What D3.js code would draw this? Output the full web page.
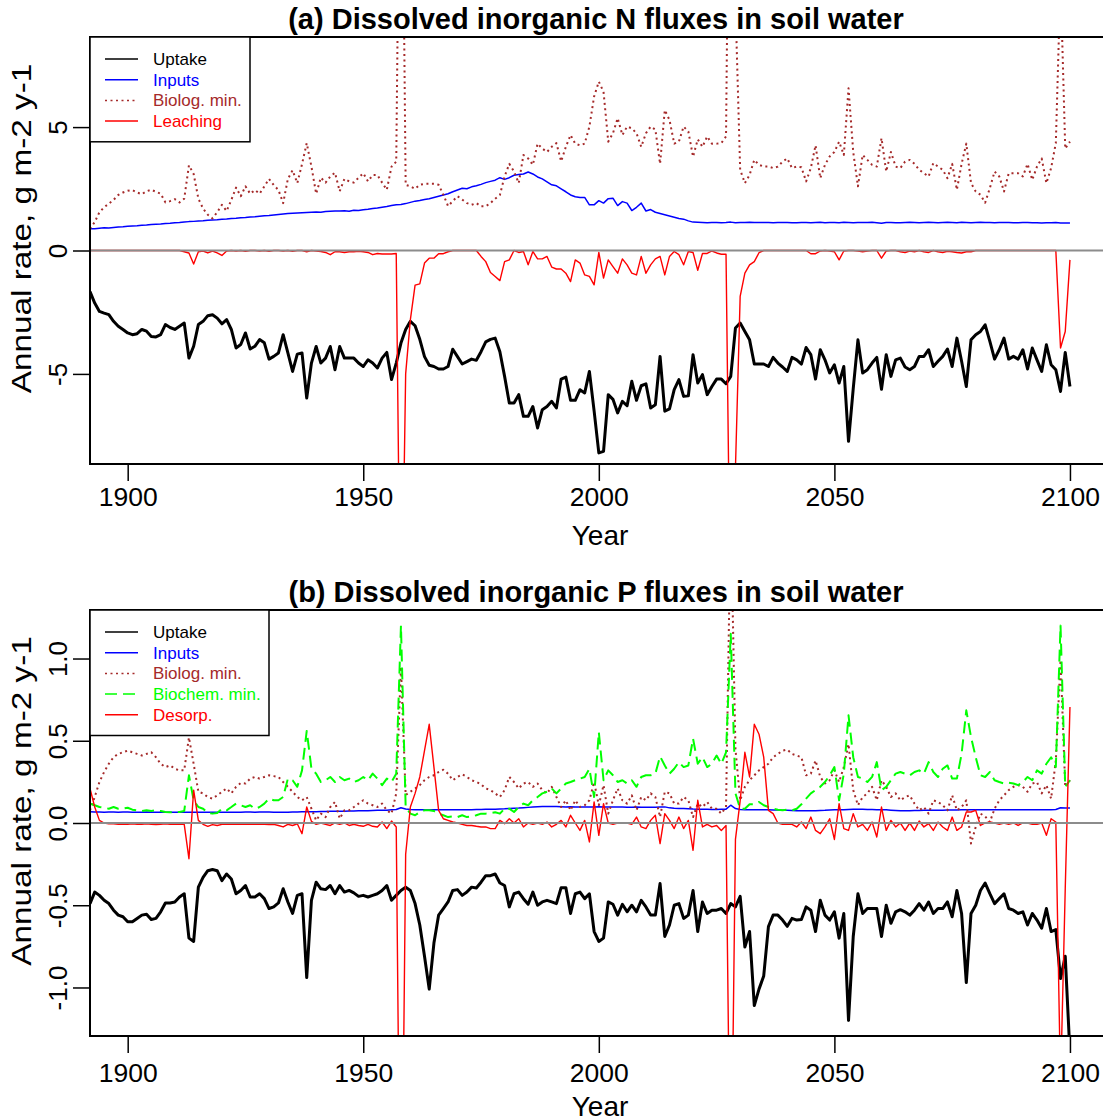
<!DOCTYPE html>
<html>
<head>
<meta charset="utf-8">
<script src="https://cdnjs.cloudflare.com/ajax/libs/d3/7.8.5/d3.min.js"></script>
<style>
body { margin: 0; background: #fff; }
text { font-family: "Liberation Sans", Arial, sans-serif; }
</style>
</head>
<body>
<div id="graph"></div>
<script>
//constantes
const w = 1103;
const h = 1120;
const startYear = 1892;
const left = 90;
const right = 1110;

// graduations
const xTicks = [1900, 1950, 2000, 2050, 2100];
const nTicks = [-5, 0, 5];
const pTicks = [-1.0, -0.5, 0.0, 0.5, 1.0];

// (a) azote, une valeur par année depuis 1892
const nUptake = [
 -1.66,-2.13,-2.47,-2.54,-2.60,-2.87,-3.07,-3.20,-3.34,-3.41,
 -3.37,-3.20,-3.27,-3.48,-3.50,-3.41,-3.00,-3.12,-3.20,-3.07,
 -2.94,-4.36,-3.88,-3.00,-2.87,-2.64,-2.60,-2.74,-2.97,-2.80,
 -3.20,-3.95,-3.81,-3.34,-3.99,-3.88,-3.61,-3.74,-4.40,-4.29,
 -4.15,-3.41,-4.15,-4.90,-4.20,-4.15,-5.98,-4.56,-3.89,-4.56,
 -4.36,-3.89,-4.83,-3.89,-4.36,-4.36,-4.36,-4.56,-4.70,-4.43,
 -4.56,-4.76,-4.36,-4.13,-5.23,-4.56,-3.75,-3.20,-2.87,-3.05,
 -3.60,-4.30,-4.65,-4.70,-4.80,-4.80,-4.70,-4.00,-4.30,-4.60,
 -4.50,-4.40,-4.45,-4.10,-3.70,-3.60,-3.55,-4.10,-5.10,-6.18,
 -6.18,-5.84,-6.72,-6.72,-6.32,-7.19,-6.45,-6.32,-6.11,-6.38,
 -5.21,-5.13,-6.07,-6.07,-5.64,-5.77,-4.90,-6.50,-8.20,-8.14,
 -5.84,-6.03,-6.58,-6.11,-6.29,-5.30,-6.07,-5.48,-5.40,-6.38,
 -6.25,-4.29,-6.51,-6.42,-5.64,-5.23,-5.91,-5.89,-4.22,-5.37,
 -5.03,-5.84,-5.51,-5.21,-5.21,-5.40,-5.10,-3.14,-2.94,-3.28,
 -3.62,-4.60,-4.60,-4.60,-4.70,-4.33,-4.56,-4.72,-4.90,-4.33,
 -4.43,-4.60,-3.93,-4.22,-5.21,-4.02,-4.43,-4.96,-4.63,-5.37,
 -4.70,-7.73,-5.60,-3.62,-4.96,-4.83,-4.56,-4.33,-5.62,-4.22,
 -5.10,-4.43,-4.36,-4.72,-4.83,-4.70,-4.29,-4.29,-4.02,-4.70,
 -4.49,-4.29,-3.99,-4.70,-3.55,-4.49,-5.51,-3.62,-3.41,-3.28,
 -3.01,-3.68,-4.40,-4.02,-3.55,-4.40,-4.29,-4.40,-4.02,-4.80,
 -3.95,-4.43,-4.90,-3.82,-4.63,-4.83,-5.71,-4.13,-5.51
];
const nInputs = [
 0.88,0.88,0.90,0.92,0.91,0.93,0.95,0.96,0.98,0.99,
 1.00,1.02,1.03,1.05,1.06,1.07,1.09,1.10,1.12,1.13,
 1.15,1.17,1.18,1.20,1.21,1.23,1.24,1.25,1.27,1.28,
 1.30,1.31,1.33,1.34,1.36,1.37,1.39,1.41,1.42,1.44,
 1.46,1.48,1.50,1.51,1.52,1.53,1.54,1.55,1.56,1.55,
 1.58,1.59,1.60,1.60,1.61,1.59,1.63,1.62,1.65,1.67,
 1.70,1.72,1.75,1.78,1.82,1.85,1.86,1.90,1.95,2.00,
 2.03,2.07,2.10,2.15,2.20,2.25,2.30,2.38,2.45,2.52,
 2.50,2.58,2.62,2.68,2.75,2.80,2.85,2.95,2.88,2.95,
 3.05,3.08,3.10,3.18,3.10,2.98,2.90,2.78,2.66,2.62,
 2.50,2.38,2.25,2.18,2.15,2.15,1.85,1.85,2.02,1.92,
 2.10,2.12,1.82,1.98,1.92,1.62,1.75,1.92,1.60,1.66,
 1.55,1.50,1.45,1.40,1.35,1.30,1.27,1.20,1.15,1.14,
 1.13,1.12,1.13,1.13,1.12,1.13,1.15,1.12,1.13,1.13,
 1.14,1.13,1.13,1.13,1.13,1.12,1.13,1.13,1.13,1.12,
 1.12,1.13,1.13,1.12,1.13,1.14,1.12,1.13,1.13,1.12,
 1.14,1.13,1.12,1.13,1.13,1.13,1.14,1.12,1.10,1.13,
 1.13,1.12,1.12,1.13,1.14,1.13,1.12,1.13,1.14,1.13,
 1.12,1.13,1.14,1.13,1.12,1.14,1.13,1.12,1.13,1.14,
 1.13,1.13,1.12,1.13,1.13,1.13,1.12,1.12,1.13,1.13,
 1.12,1.12,1.11,1.12,1.12,1.13,1.11,1.11,1.11
];
const nBiolog = [
 0.88,1.15,1.55,1.75,1.90,2.05,2.25,2.35,2.42,2.45,
 2.35,2.28,2.40,2.46,2.38,2.30,1.95,2.00,2.08,1.95,
 2.10,3.45,3.10,2.10,1.70,1.45,1.30,1.55,1.85,1.60,
 2.05,2.55,2.20,2.60,2.30,2.45,2.30,2.60,2.90,2.65,
 2.45,1.92,2.90,3.25,2.73,3.50,4.35,3.40,2.30,2.95,
 2.75,3.00,3.15,2.40,2.90,2.80,2.75,2.95,3.13,2.80,
 3.06,3.06,2.75,2.46,3.40,3.60,22.0,2.66,2.60,2.50,
 2.66,2.70,2.70,2.70,2.66,2.26,1.80,2.00,2.20,2.06,
 1.92,1.85,1.92,1.79,1.79,1.92,2.10,2.25,3.00,3.51,
 3.20,2.73,3.87,3.73,3.47,4.33,4.13,3.99,4.20,4.35,
 3.61,4.20,4.68,4.33,4.26,4.33,5.02,6.24,6.84,6.43,
 4.41,4.75,5.36,4.68,5.02,4.95,4.75,4.20,4.75,5.02,
 4.90,3.51,5.69,5.29,4.33,4.41,5.02,4.82,3.80,4.50,
 4.20,4.62,4.33,4.33,4.35,4.62,24.0,10.0,3.27,2.73,
 3.06,3.67,3.47,3.40,3.40,3.34,3.40,3.60,3.73,3.34,
 3.40,3.37,2.80,3.34,4.26,2.93,3.47,3.81,3.99,4.41,
 3.87,6.57,3.99,2.60,3.87,3.67,3.47,3.40,4.55,3.20,
 3.99,3.40,3.34,3.60,3.67,3.51,3.27,3.13,3.00,3.54,
 3.40,3.27,2.93,3.51,2.46,3.51,4.33,2.73,2.39,2.26,
 1.94,2.53,3.20,3.00,2.39,3.13,3.13,3.13,3.00,3.51,
 2.86,3.40,3.73,2.73,3.34,4.35,11.0,4.13,4.41
];
const nLeach = [
 0,0,0,0,0,0,0,0,0,0,
 0,0,0,0,0,0,0,0,0,0,
 -0.05,-0.10,-0.55,-0.05,-0.02,-0.10,-0.02,-0.10,-0.20,-0.02,
 0,-0.02,0,-0.03,0,0,-0.02,0,-0.03,0,
 0,-0.02,0,-0.03,0,0,-0.05,0,-0.02,-0.04,
 -0.08,-0.17,-0.05,-0.05,-0.08,-0.05,-0.05,-0.03,-0.05,-0.08,
 -0.17,-0.12,-0.14,-0.14,-0.14,-0.12,-17.6,-5.0,-2.8,-1.4,
 -1.35,-0.51,-0.31,-0.31,-0.13,-0.13,-0.05,0,0,0,
 0,0,0,-0.24,-0.45,-0.89,-1.05,-1.22,-0.45,-0.38,
 0,-0.08,-0.04,-0.58,-0.04,-0.34,-0.34,-0.24,-0.67,-0.75,
 -0.75,-0.92,-1.26,-0.38,-0.51,-0.99,-1.05,-1.39,-0.08,-1.12,
 -0.38,-0.65,-0.92,-0.34,-0.58,-0.92,-0.99,-0.24,-0.92,-0.58,
 -0.34,-0.24,-0.99,-0.24,-0.04,-0.17,-0.58,-0.04,-0.08,-0.80,
 -0.12,-0.12,-0.02,-0.10,-0.15,-0.15,-16.0,-8.8,-1.86,-0.92,
 -0.58,-0.45,-0.09,0,0,0,0,0,0,0,
 0,0,0,-0.13,-0.13,-0.02,0,-0.02,-0.05,-0.38,
 -0.02,0,0,-0.02,-0.05,-0.02,0,0,-0.31,-0.02,
 0,0,-0.05,-0.08,-0.02,-0.05,0,-0.05,-0.08,0,
 -0.05,-0.08,-0.03,-0.05,-0.08,-0.10,-0.05,-0.05,0,0,
 0,0,0,0,0,0,0,0,0,0,
 0,0,0,0,0,0,-3.95,-3.28,-0.38
];

// (b) phosphore
const pUptake = [
 -0.49,-0.42,-0.44,-0.47,-0.49,-0.53,-0.56,-0.57,-0.60,-0.60,
 -0.58,-0.56,-0.555,-0.587,-0.58,-0.54,-0.486,-0.486,-0.48,-0.45,
 -0.43,-0.70,-0.72,-0.39,-0.33,-0.29,-0.283,-0.29,-0.35,-0.31,
 -0.34,-0.43,-0.41,-0.38,-0.45,-0.45,-0.43,-0.46,-0.52,-0.51,
 -0.486,-0.40,-0.48,-0.55,-0.44,-0.43,-0.94,-0.47,-0.36,-0.40,
 -0.405,-0.38,-0.43,-0.38,-0.42,-0.41,-0.425,-0.446,-0.44,-0.45,
 -0.44,-0.43,-0.41,-0.38,-0.47,-0.44,-0.41,-0.39,-0.41,-0.49,
 -0.62,-0.81,-1.01,-0.73,-0.56,-0.52,-0.48,-0.41,-0.405,-0.44,
 -0.42,-0.39,-0.395,-0.36,-0.32,-0.32,-0.31,-0.365,-0.38,-0.51,
 -0.43,-0.42,-0.46,-0.494,-0.42,-0.50,-0.48,-0.47,-0.48,-0.49,
 -0.393,-0.393,-0.55,-0.43,-0.42,-0.46,-0.43,-0.66,-0.72,-0.70,
 -0.48,-0.494,-0.56,-0.494,-0.54,-0.50,-0.54,-0.47,-0.51,-0.56,
 -0.56,-0.368,-0.69,-0.62,-0.50,-0.49,-0.58,-0.56,-0.41,-0.66,
 -0.48,-0.55,-0.53,-0.53,-0.52,-0.55,-0.49,-0.51,-0.446,-0.754,
 -0.66,-1.11,-1.01,-0.93,-0.63,-0.56,-0.56,-0.59,-0.628,-0.58,
 -0.59,-0.587,-0.51,-0.53,-0.66,-0.47,-0.56,-0.59,-0.54,-0.70,
 -0.55,-1.20,-0.69,-0.43,-0.55,-0.52,-0.52,-0.52,-0.69,-0.50,
 -0.61,-0.54,-0.527,-0.54,-0.56,-0.53,-0.49,-0.53,-0.48,-0.55,
 -0.52,-0.52,-0.48,-0.57,-0.41,-0.55,-0.97,-0.55,-0.50,-0.41,
 -0.365,-0.43,-0.49,-0.46,-0.43,-0.52,-0.53,-0.55,-0.54,-0.62,
 -0.55,-0.59,-0.64,-0.52,-0.66,-0.648,-0.946,-0.81,-1.40
];
const pInputs = [
 0.068,0.067,0.067,0.066,0.067,0.067,0.066,0.067,0.067,0.066,
 0.066,0.066,0.067,0.066,0.066,0.066,0.065,0.066,0.066,0.065,
 0.066,0.066,0.066,0.065,0.065,0.065,0.066,0.066,0.066,0.066,
 0.066,0.066,0.066,0.067,0.067,0.066,0.067,0.067,0.067,0.066,
 0.066,0.066,0.066,0.067,0.067,0.068,0.068,0.069,0.069,0.070,
 0.070,0.071,0.071,0.072,0.072,0.073,0.073,0.074,0.075,0.075,
 0.076,0.077,0.077,0.078,0.080,0.082,0.093,0.085,0.082,0.081,
 0.081,0.080,0.080,0.080,0.081,0.080,0.080,0.081,0.080,0.080,
 0.081,0.081,0.082,0.082,0.083,0.083,0.084,0.085,0.086,0.088,
 0.090,0.091,0.093,0.095,0.097,0.099,0.100,0.101,0.100,0.100,
 0.099,0.098,0.099,0.098,0.097,0.097,0.098,0.097,0.099,0.098,
 0.097,0.098,0.097,0.097,0.096,0.096,0.097,0.096,0.096,0.096,
 0.096,0.097,0.098,0.092,0.089,0.088,0.088,0.087,0.085,0.084,
 0.083,0.083,0.082,0.082,0.083,0.084,0.108,0.088,0.082,0.081,
 0.081,0.081,0.080,0.080,0.080,0.079,0.079,0.078,0.078,0.076,
 0.075,0.075,0.074,0.074,0.075,0.076,0.077,0.079,0.080,0.080,
 0.081,0.082,0.083,0.083,0.083,0.082,0.082,0.081,0.081,0.080,
 0.078,0.076,0.074,0.074,0.075,0.076,0.076,0.077,0.077,0.078,
 0.078,0.078,0.079,0.079,0.079,0.080,0.081,0.081,0.080,0.081,
 0.081,0.081,0.080,0.081,0.081,0.081,0.080,0.081,0.080,0.080,
 0.080,0.081,0.081,0.081,0.081,0.082,0.093,0.091,0.091
];
const pBiolog = [
 0.077,0.158,0.249,0.31,0.36,0.40,0.42,0.43,0.44,0.43,
 0.42,0.41,0.42,0.43,0.40,0.36,0.34,0.35,0.33,0.32,
 0.32,0.52,0.36,0.19,0.18,0.158,0.148,0.168,0.19,0.21,
 0.18,0.22,0.243,0.24,0.27,0.28,0.27,0.28,0.29,0.285,
 0.28,0.249,0.22,0.19,0.158,0.138,0.158,0.087,0.016,0.057,
 0.036,0.097,0.128,0.027,0.077,0.077,0.097,0.118,0.138,0.118,
 0.108,0.097,0.118,0.077,0.057,0.18,0.95,0.17,0.19,0.21,
 0.23,0.26,0.28,0.29,0.31,0.324,0.30,0.26,0.28,0.296,
 0.28,0.26,0.25,0.235,0.21,0.20,0.18,0.158,0.20,0.28,
 0.249,0.21,0.24,0.249,0.22,0.24,0.20,0.18,0.22,0.158,
 0.097,0.138,0.077,0.138,0.097,0.108,0.138,0.249,0.108,0.23,
 0.057,0.138,0.21,0.138,0.118,0.168,0.077,0.158,0.138,0.18,
 0.158,0.036,0.19,0.18,0.118,0.118,0.158,0.138,0.036,0.118,
 0.097,0.128,0.087,0.087,0.057,0.097,1.90,0.45,0.138,0.22,
 0.26,0.29,0.32,0.34,0.36,0.40,0.42,0.44,0.446,0.42,
 0.41,0.40,0.29,0.30,0.38,0.28,0.24,0.26,0.32,0.249,
 0.34,0.48,0.20,0.108,0.158,0.18,0.22,0.138,0.26,0.22,
 0.158,0.18,0.138,0.158,0.168,0.118,0.077,0.097,0.057,0.138,
 0.128,0.108,0.077,0.168,0.077,0.097,0.138,-0.125,-0.024,0.057,
 0.04,0.006,0.087,0.138,0.168,0.20,0.22,0.23,0.22,0.19,
 0.24,0.249,0.18,0.23,0.148,0.38,0.99,0.22,0.26
];
const pBiochem = [
 0.118,0.108,0.097,0.093,0.087,0.097,0.087,0.087,0.093,0.081,
 0.077,0.073,0.077,0.073,0.077,0.073,0.067,0.065,0.065,0.067,
 0.073,0.29,0.138,0.097,0.087,0.061,0.057,0.061,0.087,0.077,
 0.097,0.118,0.108,0.097,0.108,0.087,0.097,0.118,0.148,0.138,
 0.138,0.158,0.27,0.26,0.22,0.32,0.56,0.33,0.30,0.249,
 0.26,0.28,0.249,0.28,0.26,0.27,0.249,0.26,0.28,0.26,
 0.30,0.27,0.23,0.27,0.249,0.30,1.20,0.097,0.057,0.047,
 0.067,0.077,0.077,0.073,0.057,0.047,0.036,0.04,0.036,0.047,
 0.036,0.04,0.047,0.057,0.057,0.061,0.065,0.057,0.087,0.087,
 0.067,0.097,0.118,0.108,0.138,0.158,0.18,0.19,0.21,0.18,
 0.21,0.24,0.249,0.26,0.27,0.28,0.33,0.158,0.553,0.26,
 0.32,0.29,0.249,0.26,0.24,0.26,0.22,0.28,0.29,0.29,
 0.30,0.405,0.35,0.30,0.33,0.37,0.34,0.35,0.513,0.36,
 0.40,0.34,0.36,0.41,0.36,0.43,1.15,0.18,0.087,0.087,
 0.114,0.114,0.128,0.108,0.097,0.087,0.081,0.077,0.081,0.077,
 0.087,0.114,0.148,0.18,0.20,0.22,0.249,0.29,0.34,0.138,
 0.30,0.655,0.40,0.28,0.27,0.249,0.28,0.37,0.20,0.22,
 0.26,0.30,0.31,0.30,0.29,0.31,0.32,0.30,0.37,0.31,
 0.28,0.33,0.35,0.27,0.27,0.42,0.685,0.523,0.40,0.29,
 0.28,0.31,0.26,0.249,0.24,0.245,0.24,0.23,0.249,0.28,
 0.26,0.32,0.30,0.36,0.40,0.34,1.20,0.22,0.26
];
const pDesorp = [
 0.21,0.097,0.016,0,-0.005,-0.005,-0.008,-0.008,-0.008,-0.005,
 -0.008,-0.008,-0.005,-0.008,-0.01,-0.008,-0.005,-0.008,-0.008,-0.008,
 -0.008,-0.217,0.20,0.016,-0.008,-0.02,-0.01,-0.015,-0.008,-0.008,
 -0.008,-0.008,-0.008,-0.008,-0.008,-0.008,-0.008,-0.008,-0.01,-0.008,
 -0.015,-0.024,-0.008,-0.015,-0.005,-0.065,0.097,0.01,-0.008,0,
 -0.008,-0.015,0,-0.008,0,-0.015,-0.008,-0.015,-0.02,-0.008,
 -0.02,-0.024,0.006,-0.034,0.012,-0.024,-3.0,-0.19,0.097,0.18,
 0.28,0.44,0.60,0.34,0.077,0.026,0.016,0.006,0,-0.008,
 -0.015,-0.015,-0.02,-0.024,-0.024,-0.034,-0.034,0.016,-0.004,0.026,
 0,0.026,-0.024,0,-0.008,0,-0.008,0.006,-0.024,-0.008,
 0.016,-0.024,0.047,0,-0.045,0.016,-0.115,0.128,-0.075,0.118,
 0,-0.008,0,0,0,-0.008,0.036,-0.024,-0.034,0.016,
 0.047,-0.125,0.057,0.016,-0.034,0.036,-0.034,0.016,-0.166,0.138,
 -0.024,-0.008,-0.024,-0.015,-0.045,-0.015,-2.5,-0.10,0.135,0.43,
 0.28,0.60,0.54,0.40,0.077,0.057,0,-0.008,-0.008,-0.008,
 -0.024,0.006,-0.034,0.036,-0.045,-0.065,-0.024,0.026,-0.10,0.118,
 -0.034,-0.045,0.057,-0.024,-0.008,-0.045,0.006,-0.085,0.097,-0.045,
 0.016,-0.024,0,-0.045,0,-0.045,0.012,-0.024,-0.004,-0.045,
 0.006,-0.024,-0.045,0.036,-0.045,-0.024,0.067,0.067,0.077,-0.015,
 0,0.006,0,-0.008,0,-0.008,0,-0.015,0,0,
 -0.008,-0.008,0,-0.075,0.026,0.006,-1.6,-0.4,0.705
];

//création du svg
const svg = d3.select("#graph")
    .append("svg")
    .attr("width", w)
    .attr("height", h)
    .style("background", "#fff");

// échelle x commune
const xScale = d3.scaleLinear()
    .domain([1892, 2108.5])
    .range([left, right]);

// un panneau = un graphique
function panneau(cfg) {
    const yScale = d3.scaleLinear()
        .domain(cfg.yDomain)
        .range([cfg.bottom, cfg.top]);

    const g = svg.append("g");

    svg.append("clipPath")
        .attr("id", "clip" + cfg.id)
        .append("rect")
        .attr("x", left)
        .attr("y", cfg.top)
        .attr("width", right - left)
        .attr("height", cfg.bottom - cfg.top);

    const zone = g.append("g").attr("clip-path", "url(#clip" + cfg.id + ")");

    const ligne = d3.line()
        .x(d => xScale(d.year))
        .y(d => yScale(d.v));

    // courbes
    cfg.series.forEach(s => {
        const pts = s.values.map((v, i) => ({year: startYear + i, v: v}));
        zone.append("path")
            .datum(pts)
            .attr("fill", "none")
            .attr("stroke", s.color)
            .attr("stroke-width", s.width)
            .attr("stroke-dasharray", s.dash || null)
            .attr("stroke-linejoin", "round")
            .attr("d", ligne);
    });

    // ligne du zéro
    zone.append("line")
        .attr("x1", left)
        .attr("x2", right)
        .attr("y1", yScale(0))
        .attr("y2", yScale(0))
        .attr("stroke", "#8c8c8c")
        .attr("stroke-width", 2);

    // cadre
    g.append("rect")
        .attr("x", left)
        .attr("y", cfg.top)
        .attr("width", right - left)
        .attr("height", cfg.bottom - cfg.top)
        .attr("fill", "none")
        .attr("stroke", "#000")
        .attr("stroke-width", 2);

    // axe x
    const axeX = d3.axisBottom(xScale)
        .tickValues(xTicks)
        .tickSize(17)
        .tickPadding(cfg.xPad)
        .tickFormat(d => String(d));
    const gx = g.append("g")
        .attr("transform", "translate(0," + cfg.bottom + ")")
        .call(axeX);
    gx.select(".domain").remove();
    gx.selectAll("line").attr("stroke", "#000").attr("stroke-width", 1.5);
    gx.selectAll("text")
        .attr("font-size", 26.5)
        .attr("font-family", "Liberation Sans, Arial, sans-serif")
        .attr("fill", "#000");

    // axe y
    const axeY = d3.axisLeft(yScale)
        .tickValues(cfg.yTicks)
        .tickSize(17)
        .tickFormat(cfg.fmt);
    const gy = g.append("g")
        .attr("transform", "translate(" + left + ",0)")
        .call(axeY);
    gy.select(".domain").remove();
    gy.selectAll("line").attr("stroke", "#000").attr("stroke-width", 1.5);
    gy.selectAll("text")
        .attr("transform", "rotate(-90)")
        .attr("x", 0)
        .attr("y", -23)
        .attr("dy", 0)
        .attr("text-anchor", "middle")
        .attr("font-size", 26)
        .attr("font-family", "Liberation Sans, Arial, sans-serif")
        .attr("fill", "#000");

    // titres
    g.append("text")
        .attr("x", 596)
        .attr("y", cfg.top - 8)
        .attr("text-anchor", "middle")
        .attr("font-size", 29)
        .attr("font-weight", "bold")
        .text(cfg.title);

    g.append("text")
        .attr("x", 600)
        .attr("y", cfg.bottom + cfg.yearDy)
        .attr("text-anchor", "middle")
        .attr("font-size", 28)
        .text("Year");

    // titre y, étiré dans le sens de la lecture
    g.append("text")
        .attr("transform", "translate(31," + ((cfg.top + cfg.bottom) / 2 - 22) + ") rotate(-90) scale(1.17,1)")
        .attr("text-anchor", "middle")
        .attr("font-size", 28.5)
        .text("Annual rate, g m-2 y-1");

    // légende
    const leg = g.append("g");
    leg.append("rect")
        .attr("x", left)
        .attr("y", cfg.top)
        .attr("width", cfg.legW)
        .attr("height", 22 + cfg.series.length * 20.7)
        .attr("fill", "#fff")
        .attr("stroke", "#000")
        .attr("stroke-width", 1.5);
    cfg.series.forEach((s, i) => {
        const yy = cfg.top + 22 + i * 20.7;
        leg.append("line")
            .attr("x1", 105)
            .attr("x2", 138)
            .attr("y1", yy)
            .attr("y2", yy)
            .attr("stroke", s.color)
            .attr("stroke-width", 1.5)
            .attr("stroke-dasharray", s.dash || null);
        leg.append("text")
            .attr("x", 153)
            .attr("y", yy)
            .attr("dy", "0.35em")
            .attr("font-size", 17)
            .attr("fill", s.color)
            .text(s.name);
    });
}

// (a)
panneau({
    id: "a",
    top: 37,
    bottom: 464,
    xPad: 6,
    yearDy: 81,
    yDomain: [-8.65, 8.65],
    yTicks: nTicks,
    fmt: d => String(d),
    title: "(a) Dissolved inorganic N fluxes in soil water",
    legW: 160,
    series: [
        {name: "Uptake", values: nUptake, color: "#000", width: 3},
        {name: "Inputs", values: nInputs, color: "#0000ff", width: 1.5},
        {name: "Biolog. min.", values: nBiolog, color: "#a52a2a", width: 2, dash: "2,3.5"},
        {name: "Leaching", values: nLeach, color: "#ff0000", width: 1.4}
    ]
});

// (b)
panneau({
    id: "b",
    top: 610,
    bottom: 1036,
    xPad: 10,
    yearDy: 80,
    yDomain: [-1.295, 1.295],
    yTicks: pTicks,
    fmt: d => d.toFixed(1),
    title: "(b) Dissolved inorganic P fluxes in soil water",
    legW: 179,
    series: [
        {name: "Uptake", values: pUptake, color: "#000", width: 3},
        {name: "Inputs", values: pInputs, color: "#0000ff", width: 1.5},
        {name: "Biolog. min.", values: pBiolog, color: "#a52a2a", width: 2, dash: "2,3.5"},
        {name: "Biochem. min.", values: pBiochem, color: "#00ff00", width: 2, dash: "12,6"},
        {name: "Desorp.", values: pDesorp, color: "#ff0000", width: 1.4}
    ]
});
</script>
</body>
</html>
